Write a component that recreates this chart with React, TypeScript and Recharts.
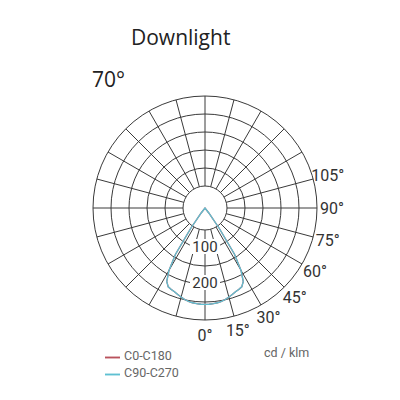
import React from 'react';
import { RadarChart, Radar, PolarGrid, PolarAngleAxis, PolarRadiusAxis, Legend } from 'recharts';

// Luminous intensity profile (cd/klm) by gamma angle, mirrored for both half-planes
const gammaDeg = [0, 2.5, 5, 7.5, 10, 12.5, 15, 17.5, 20, 22.5, 25, 27.5, 30, 32.5, 35, 37.5, 40];
const c0c180 = [258, 258, 257, 256, 254, 251, 247, 243, 239, 236, 233, 222, 193, 147, 67, 16, 0];
const c90c270 = [258, 258, 257, 256, 254, 251, 247, 243, 239, 236, 233, 222, 193, 147, 67, 16, 0];

// Grid
const gridAngles = [0, 15, 30, 45, 60, 75, 90, 105, 120, 135, 150, 165, 180, 195, 210, 225, 240, 255, 270, 285, 300, 315, 330, 345];
const angleLabels = [0, 15, 30, 45, 60, 75, 90, 105];
const radiusTicks = [50, 100, 150, 200, 250, 300];
const radiusLabels = [100, 200];

const seriesNames = ['C0-C180', 'C90-C270'];
const seriesColors = ['#b9525c', '#5fc0d2'];

const CX = 205;
const CY = 208;
const R_OUT = 112;
const R_HOLE = 22;
const STEP = 2.5;

const gridRows = gridAngles.map((a) => ({ angle: a }));

const lookup = (arr: number[], g: number) => {
  const i = gammaDeg.indexOf(g);
  return i >= 0 ? arr[i] : 0;
};

const curveRows: { angle: number; c0: number; c90: number }[] = [];
for (let k = 0; k <= 360 / STEP; k++) {
  const a = k * STEP;
  const g = a <= 180 ? a : 360 - a;
  curveRows.push({ angle: a, c0: lookup(c0c180, g), c90: lookup(c90c270, g) });
}

const AngleTick = (props: any) => {
  const { x, y, payload } = props;
  const v = Number(payload.value);
  if (!angleLabels.includes(v)) return <g />;
  return (
    <text x={x} y={y} textAnchor="middle" dominantBaseline="central" fontFamily="Roboto" fontSize={16} fill="#333">
      {v}°
    </text>
  );
};

const RadiusTick = (props: any) => {
  const { x, y, payload } = props;
  const v = Number(payload.value);
  if (!radiusLabels.includes(v)) return <g />;
  return (
    <g>
      <rect x={x - 15} y={y - 9} width={30} height={15} fill="#fff" />
      <text x={x} y={y - 1.5} textAnchor="middle" dominantBaseline="central" fontFamily="Roboto" fontSize={15} fill="#333">
        {v}
      </text>
    </g>
  );
};

const zeroMargin = { top: 0, right: 0, bottom: 0, left: 0 };

export default function App() {
  return (
    <div style={{ position: 'absolute', left: 0, top: 0, width: 400, height: 400, background: '#fff', overflow: 'hidden' }}>
      <div style={{ position: 'absolute', left: 131, top: 23, fontFamily: 'Open Sans', fontSize: 21, color: '#222', whiteSpace: 'nowrap' }}>
        Downlight
      </div>
      <div style={{ position: 'absolute', left: 92, top: 65, fontFamily: 'Open Sans', fontSize: 21, color: '#222', whiteSpace: 'nowrap' }}>
        70°
      </div>
      <div style={{ position: 'absolute', left: 0, top: 0 }}>
        <RadarChart
          width={400}
          height={400}
          cx={CX}
          cy={CY}
          innerRadius={R_HOLE}
          outerRadius={R_OUT}
          startAngle={-90}
          endAngle={270}
          data={gridRows}
          margin={zeroMargin}
        >
          <PolarGrid gridType="circle" stroke="#3a3a3a" strokeWidth={1} />
          <PolarAngleAxis
            dataKey="angle"
            type="number"
            domain={[0, 360]}
            ticks={gridAngles}
            tick={AngleTick}
            tickLine={false}
            axisLine={false}
            tickSize={15}
          />
          <PolarRadiusAxis
            angle={-90}
            type="number"
            domain={[50, 300]}
            ticks={radiusTicks}
            allowDataOverflow
            tick={RadiusTick}
            axisLine={false}
            tickLine={false}
          />
        </RadarChart>
      </div>
      <div style={{ position: 'absolute', left: 0, top: 0 }}>
        <RadarChart
          width={400}
          height={400}
          cx={CX}
          cy={CY}
          innerRadius={0}
          outerRadius={R_OUT}
          startAngle={-90}
          endAngle={270}
          data={curveRows}
          margin={zeroMargin}
        >
          <PolarAngleAxis dataKey="angle" type="number" domain={[0, 360]} tick={false} tickLine={false} axisLine={false} />
          <PolarRadiusAxis type="number" domain={[0, 300]} allowDataOverflow tick={false} axisLine={false} tickLine={false} />
          <Radar
            name={seriesNames[0]}
            dataKey="c0"
            stroke={seriesColors[0]}
            strokeWidth={1.3}
            fill="none"
            fillOpacity={0}
            dot={false}
            isAnimationActive={false}
          />
          <Radar
            name={seriesNames[1]}
            dataKey="c90"
            stroke={seriesColors[1]}
            strokeWidth={1.3}
            fill="none"
            fillOpacity={0}
            dot={false}
            isAnimationActive={false}
          />
          <Legend
            layout="vertical"
            align="center"
            verticalAlign="middle"
            iconType="plainline"
            iconSize={15}
            wrapperStyle={{ left: 105, top: 348, width: 120, fontSize: 12, lineHeight: '15px' }}
            formatter={(v: any) => (
              <span style={{ color: '#666', fontFamily: 'Roboto', fontSize: 12.5 }}>{v}</span>
            )}
          />
        </RadarChart>
      </div>
      <div style={{ position: 'absolute', left: 264, top: 345, fontFamily: 'Roboto', fontSize: 12.5, color: '#666', whiteSpace: 'nowrap' }}>
        cd / klm
      </div>
    </div>
  );
}
